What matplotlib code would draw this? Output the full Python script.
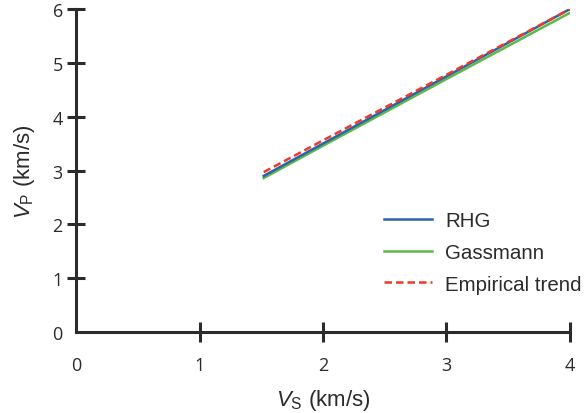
import matplotlib
matplotlib.use("Agg")
import matplotlib.pyplot as plt

plt.rcParams['font.family'] = ['Open Sans', 'DejaVu Sans']
plt.rcParams['mathtext.fontset'] = 'custom'
plt.rcParams['mathtext.it'] = 'Liberation Sans:italic'
plt.rcParams['mathtext.rm'] = 'Liberation Sans'

# Shear-wave velocity (km/s) and modelled P-wave velocity (km/s)
vs = [1.52, 2.0, 3.0, 4.0]
vp_rhg = [2.90, 3.50, 4.75, 6.00]
vp_gassmann = [2.86, 3.46, 4.70, 5.93]
vp_empirical = [2.97, 3.56, 4.78, 6.00]

x_ticks = [0, 1, 2, 3, 4]
y_ticks = [0, 1, 2, 3, 4, 5, 6]

ink = '#2b2b2b'
label_font = ['Liberation Sans', 'DejaVu Sans']

fig = plt.figure(figsize=(5.87, 4.14), dpi=100)
ax = fig.add_axes([0.1295, 0.1957, 0.8415, 0.780])

ax.plot(vs, vp_gassmann, color='#5cb947', lw=1.8, label='Gassmann', zorder=2)
ax.plot(vs, vp_rhg, color='#2c62ad', lw=1.8, label='RHG', zorder=3)
ax.plot(vs, vp_empirical, color='#ec3b2a', lw=1.8, ls=(0, (3, 1.6)),
        label='Empirical trend', zorder=4)

ax.set_xlim(0, 4)
ax.set_ylim(0, 6)
ax.set_xticks(x_ticks)
ax.set_yticks(y_ticks)

for side in ('top', 'right'):
    ax.spines[side].set_visible(False)
for side in ('left', 'bottom'):
    ax.spines[side].set_linewidth(2.2)
    ax.spines[side].set_color(ink)
    ax.spines[side].set_capstyle('projecting')

ax.tick_params(axis='x', direction='inout', length=15, width=2.2, color=ink,
               labelsize=13, labelcolor=ink, pad=10)
ax.tick_params(axis='y', direction='inout', length=13, width=2.2, color=ink,
               labelsize=13, labelcolor=ink, pad=3)
ax.xaxis.get_major_ticks()[0].tick1line.set_visible(False)
ax.yaxis.get_major_ticks()[0].tick1line.set_visible(False)

ax.set_xlabel(r'$V_{\mathrm{S}}$ (km/s)', fontsize=16, color=ink, labelpad=9,
              family=label_font)
ax.set_ylabel(r'$V_{\mathrm{P}}$ (km/s)', fontsize=16, color=ink, labelpad=11,
              family=label_font)

handles, labels = ax.get_legend_handles_labels()
order = [1, 0, 2]
leg = ax.legend([handles[i] for i in order], [labels[i] for i in order],
                loc='upper left', bbox_to_anchor=(0.595, 0.419), frameon=False,
                prop={'family': label_font, 'size': 14.8},
                handlelength=2.3, handletextpad=0.65, labelspacing=0.62,
                borderaxespad=0.3)
for t in leg.get_texts():
    t.set_color(ink)

fig.savefig('out.png', dpi=100)
